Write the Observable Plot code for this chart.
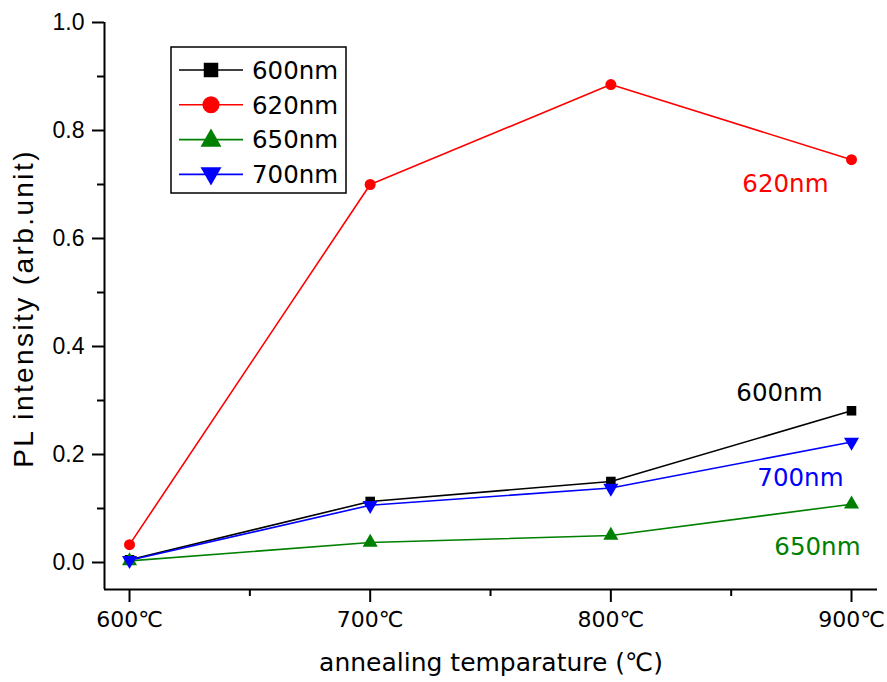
<!DOCTYPE html>
<html><head><meta charset="utf-8">
<script src="https://cdn.jsdelivr.net/npm/d3@7"></script>
<script src="https://cdn.jsdelivr.net/npm/@observablehq/plot@0.6"></script>
<style>
body{margin:0;background:#fff;}
#wrap{position:relative;width:887px;height:682px;}
#wrap svg.legend{position:absolute;left:0;top:0;pointer-events:none;}
</style></head><body><div id="wrap"></div>
<script>
// ---- data ----
const temps = [600, 700, 800, 900];
const tempLabels = ["600℃", "700℃", "800℃", "900℃"];
const minorTemps = [650, 750, 850];
const seriesNames = ["600nm", "620nm", "650nm", "700nm"];
const v600 = [0.005, 0.113, 0.150, 0.281];
const v620 = [0.033, 0.700, 0.885, 0.746];
const v650 = [0.003, 0.037, 0.050, 0.108];
const v700 = [0.004, 0.106, 0.138, 0.223];
const yTicks = [0.0, 0.2, 0.4, 0.6, 0.8, 1.0];
const yMinor = [0.1, 0.3, 0.5, 0.7, 0.9];
const xTitle = "annealing temparature (℃)";
const yTitle = "PL intensity (arb.unit)";

// ---- styles ----
const colors = ["#000000", "#ff0000", "#008000", "#0000ff"];
const xDomain = [589.6, 910.8];
const yDomain = [-0.05, 1.0];
const dv = "'DejaVu Sans', 'Noto Sans CJK JP', sans-serif";
const ar = "'Liberation Sans', Arial, sans-serif";

const triDown = {
  draw(ctx, size) {
    const y = Math.sqrt(size / (Math.sqrt(3) * 3));
    ctx.moveTo(0, 2 * y);
    ctx.lineTo(-Math.sqrt(3) * y, -y);
    ctx.lineTo(Math.sqrt(3) * y, -y);
    ctx.closePath();
  }
};
const symbols = [d3.symbolSquare, d3.symbolCircle, d3.symbolTriangle, triDown];
const plotSymbols = ["square", "circle", "triangle", triDown];
const radii = [5.4, 5.5, 5.6, 5.6];

const allValues = [v600, v620, v650, v700];
const rows = [];
allValues.forEach((vals, si) => vals.forEach((v, i) => rows.push({temp: temps[i], value: v, series: seriesNames[si], si})));

// annotation offsets (pixels) relative to last point
const ann = [
  {dx: -29, dy: -18},
  {dx: -23, dy: 24},
  {dx: 9, dy: 43},
  {dx: -8, dy: 36}
];

const marks = [];
marks.push(Plot.axisY(yTicks, {tickSize: 12, tickPadding: 8, strokeWidth: 2, tickFormat: d3.format(".1f"), fontSize: 23, fontFamily: ar, label: null}));
marks.push(Plot.axisY(yMinor, {tickSize: 7, strokeWidth: 2, text: null, label: null}));
marks.push(Plot.axisX(temps, {tickSize: 13, tickPadding: 9, strokeWidth: 2, tickFormat: d => tempLabels[temps.indexOf(d)], fontSize: 22, fontFamily: dv, label: null}));
marks.push(Plot.axisX(minorTemps, {tickSize: 7, strokeWidth: 2, text: null, label: null}));
marks.push(Plot.ruleX([xDomain[0]], {strokeWidth: 2}));
marks.push(Plot.ruleY([yDomain[0]], {strokeWidth: 2}));

seriesNames.forEach((name, si) => {
  const d = rows.filter(r => r.si === si);
  marks.push(Plot.line(d, {x: "temp", y: "value", stroke: colors[si], strokeWidth: 1.6}));
});
seriesNames.forEach((name, si) => {
  const d = rows.filter(r => r.si === si);
  marks.push(Plot.dot(d, {x: "temp", y: "value", symbol: () => plotSymbols[si], fill: colors[si], stroke: "none", r: radii[si]}));
  const last = d[d.length - 1];
  marks.push(Plot.text([last], {x: "temp", y: "value", text: "series", fill: colors[si], textAnchor: "end", dx: ann[si].dx, dy: ann[si].dy, fontSize: 24.5, fontFamily: dv}));
});

marks.push(Plot.text([xTitle], {frameAnchor: "bottom", textAnchor: "middle", lineAnchor: "middle", dy: 73, fontSize: 25, fontFamily: dv, fill: "#000"}));
marks.push(Plot.text([yTitle], {frameAnchor: "left", textAnchor: "middle", lineAnchor: "middle", dx: -80, dy: 2.5, rotate: -90, fontSize: 28, fontFamily: ar, fill: "#000"}));

const chart = Plot.plot({
  width: 887,
  height: 682,
  marginLeft: 104,
  marginRight: 10,
  marginTop: 22,
  marginBottom: 93,
  x: {domain: xDomain},
  y: {domain: yDomain},
  symbol: {type: "identity"},
  style: {background: "#fff", color: "#000", overflow: "visible"},
  marks
});
const wrap = document.getElementById("wrap");
wrap.appendChild(chart);
chart.querySelectorAll("text").forEach(t => {
  if (t.textContent === yTitle) t.setAttribute("letter-spacing", "2.4");
});

// ---- legend overlay ----
const lg = d3.select(wrap).append("svg").attr("class", "legend").attr("width", 887).attr("height", 682);
lg.append("rect").attr("x", 171).attr("y", 47).attr("width", 175).attr("height", 146)
  .attr("fill", "#fff").attr("stroke", "#000").attr("stroke-width", 1.5);
const legendSizes = [210, 230, 190, 190];
seriesNames.forEach((name, i) => {
  const y = 70 + i * 34.8;
  lg.append("line").attr("x1", 179).attr("x2", 243).attr("y1", y).attr("y2", y).attr("stroke", colors[i]).attr("stroke-width", 1.6);
  lg.append("path").attr("transform", `translate(211,${y + (i >= 2 ? (i === 2 ? 1 : -1) : 0)})`)
    .attr("d", d3.symbol(symbols[i], legendSizes[i])()).attr("fill", colors[i]);
  lg.append("text").attr("x", 252).attr("y", y).attr("dy", "0.36em").attr("font-size", 24.5).attr("font-family", dv).attr("fill", "#000").text(name);
});
</script></body></html>
